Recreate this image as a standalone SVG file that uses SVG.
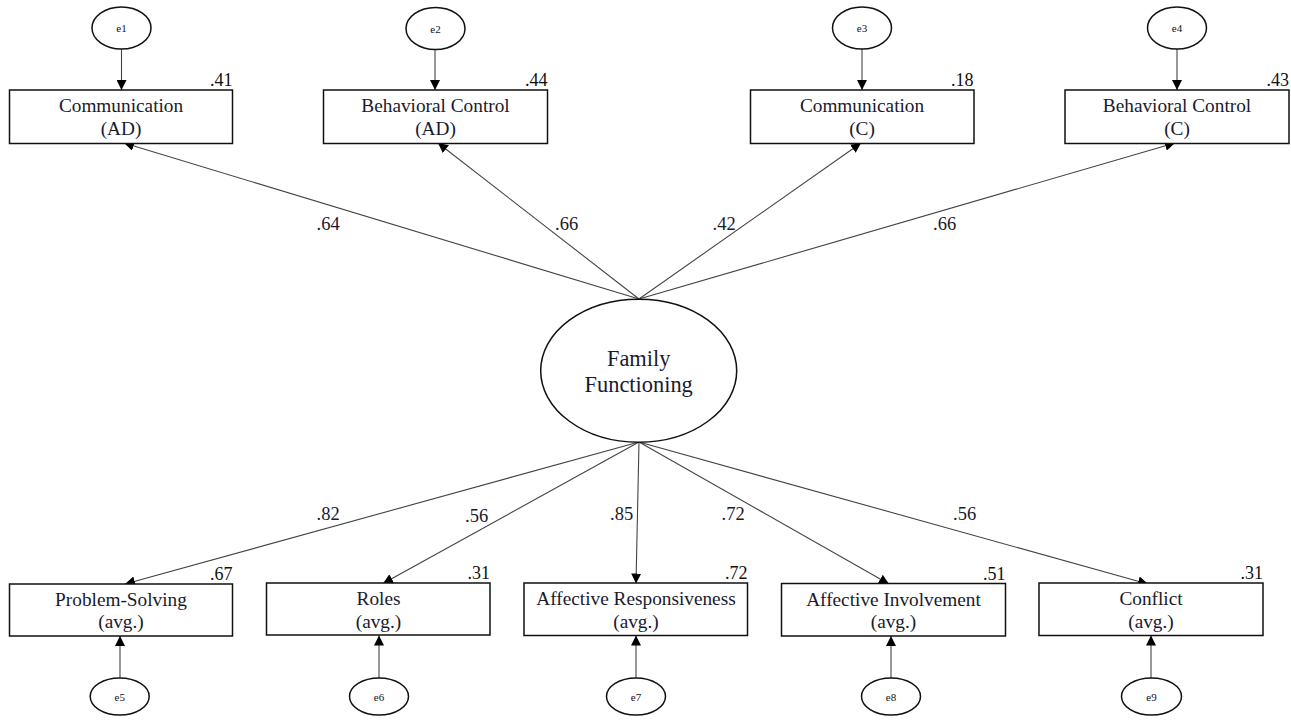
<svg xmlns="http://www.w3.org/2000/svg" width="1291" height="721" viewBox="0 0 1291 721" font-family="'Liberation Serif', 'DejaVu Serif', serif">
<defs>
<marker id="arr" markerWidth="10" markerHeight="10" refX="10" refY="5" orient="auto" markerUnits="userSpaceOnUse" viewBox="0 0 10 10">
<path d="M0,0 L10,5 L0,10 Z" fill="#000"/>
</marker>
</defs>
<style>
text{font-family:'Liberation Serif','DejaVu Serif',serif}
.box{fill:#fff;stroke:#111;stroke-width:1.5}
.ell{fill:#fff;stroke:#111;stroke-width:1.5}
.lbl{font-size:19.3px;fill:#1a1a2e;text-anchor:middle}
.big{font-size:22.4px;fill:#1a1a2e;text-anchor:middle}
.err{font-size:11px;fill:#111;text-anchor:middle}
.num{font-size:18.5px;fill:#1a1a2e}
.r2{font-size:18px;fill:#111;text-anchor:end}
.ln{stroke:#444;stroke-width:1.1;fill:none;marker-end:url(#arr)}
</style>
<rect width="1291" height="721" fill="#fff"/>
<g id="connectors">
<line class="ln" x1="639" y1="299" x2="124" y2="143"/>
<line class="ln" x1="639" y1="299" x2="438" y2="143"/>
<line class="ln" x1="639" y1="299" x2="861" y2="143"/>
<line class="ln" x1="639" y1="299" x2="1175" y2="143"/>
<line class="ln" x1="639" y1="442" x2="125" y2="584"/>
<line class="ln" x1="639" y1="442" x2="383" y2="583.5"/>
<line class="ln" x1="639" y1="442" x2="636" y2="583.5"/>
<line class="ln" x1="639" y1="442" x2="889" y2="584"/>
<line class="ln" x1="639" y1="442" x2="1148" y2="584"/>
<line class="ln" x1="121.5" y1="49" x2="121.5" y2="90"/>
<line class="ln" x1="435" y1="50" x2="435" y2="90"/>
<line class="ln" x1="862" y1="49" x2="862" y2="90"/>
<line class="ln" x1="1177" y1="49" x2="1177" y2="90"/>
<line class="ln" x1="120" y1="678" x2="120" y2="636"/>
<line class="ln" x1="379" y1="678" x2="379" y2="635.5"/>
<line class="ln" x1="636" y1="678" x2="636" y2="635.5"/>
<line class="ln" x1="891" y1="678" x2="891" y2="636"/>
<line class="ln" x1="1151" y1="678" x2="1151" y2="635.5"/>
<text class="num" x="316.5" y="230">.64</text>
<text class="num" x="555" y="230">.66</text>
<text class="num" x="712.5" y="230">.42</text>
<text class="num" x="933" y="230">.66</text>
<text class="num" x="316.5" y="519.5">.82</text>
<text class="num" x="465" y="522">.56</text>
<text class="num" x="610" y="519.5">.85</text>
<text class="num" x="721.5" y="519.5">.72</text>
<text class="num" x="953" y="519.5">.56</text>
</g>
<g id="e1"><ellipse class="ell" cx="121.5" cy="28" rx="29.5" ry="21"/><text class="err" x="121.5" y="32">e1</text></g>
<g id="e2"><ellipse class="ell" cx="435.5" cy="28.5" rx="29.5" ry="21"/><text class="err" x="435.5" y="32.5">e2</text></g>
<g id="e3"><ellipse class="ell" cx="862" cy="28" rx="29.5" ry="21"/><text class="err" x="862" y="32">e3</text></g>
<g id="e4"><ellipse class="ell" cx="1177" cy="28" rx="29.5" ry="21"/><text class="err" x="1177" y="32">e4</text></g>
<g id="comm_ad"><rect class="box" x="9.5" y="90" width="223" height="53.5"/><text class="lbl" x="121" y="112">Communication</text><text class="lbl" x="121" y="135">(AD)</text><text class="r2" x="232.5" y="86">.41</text></g>
<g id="beh_ad"><rect class="box" x="323.5" y="90" width="224" height="53.5"/><text class="lbl" x="435.5" y="112">Behavioral Control</text><text class="lbl" x="435.5" y="135">(AD)</text><text class="r2" x="547.5" y="86">.44</text></g>
<g id="comm_c"><rect class="box" x="750.5" y="90" width="223.5" height="53.5"/><text class="lbl" x="862" y="112">Communication</text><text class="lbl" x="862" y="135">(C)</text><text class="r2" x="973.5" y="86">.18</text></g>
<g id="beh_c"><rect class="box" x="1065" y="90" width="224" height="53.5"/><text class="lbl" x="1177" y="112">Behavioral Control</text><text class="lbl" x="1177" y="135">(C)</text><text class="r2" x="1289" y="86">.43</text></g>
<g id="family"><ellipse class="ell" cx="638.7" cy="370.7" rx="98" ry="71.5"/><text class="big" x="638.7" y="366">Family</text><text class="big" x="638.7" y="392">Functioning</text></g>
<g id="ps"><rect class="box" x="9.5" y="584" width="223" height="52"/><text class="lbl" x="121" y="606">Problem-Solving</text><text class="lbl" x="121" y="628">(avg.)</text><text class="r2" x="232.5" y="580">.67</text></g>
<g id="roles"><rect class="box" x="266.5" y="583" width="223.5" height="52"/><text class="lbl" x="378.5" y="605">Roles</text><text class="lbl" x="378.5" y="627.5">(avg.)</text><text class="r2" x="490" y="579">.31</text></g>
<g id="ar"><rect class="box" x="524" y="583" width="223.5" height="52.5"/><text class="lbl" x="636" y="605">Affective Responsiveness</text><text class="lbl" x="636" y="627.5">(avg.)</text><text class="r2" x="747.5" y="579">.72</text></g>
<g id="ai"><rect class="box" x="781.5" y="583.5" width="224" height="52.5"/><text class="lbl" x="893.5" y="605.5">Affective Involvement</text><text class="lbl" x="893.5" y="628">(avg.)</text><text class="r2" x="1005.5" y="579.5">.51</text></g>
<g id="conflict"><rect class="box" x="1039" y="583" width="224" height="52.5"/><text class="lbl" x="1151" y="605">Conflict</text><text class="lbl" x="1151" y="627.5">(avg.)</text><text class="r2" x="1263" y="579">.31</text></g>
<g id="e5"><ellipse class="ell" cx="119.7" cy="696.5" rx="29.5" ry="18.5"/><text class="err" x="119.7" y="700.5">e5</text></g>
<g id="e6"><ellipse class="ell" cx="379" cy="696.5" rx="29.5" ry="18.5"/><text class="err" x="379" y="700.5">e6</text></g>
<g id="e7"><ellipse class="ell" cx="636" cy="696.5" rx="29.5" ry="18.5"/><text class="err" x="636" y="700.5">e7</text></g>
<g id="e8"><ellipse class="ell" cx="891" cy="696.5" rx="29.5" ry="18.5"/><text class="err" x="891" y="700.5">e8</text></g>
<g id="e9"><ellipse class="ell" cx="1151.5" cy="696.5" rx="30" ry="18.5"/><text class="err" x="1151.5" y="700.5">e9</text></g>
</svg>
